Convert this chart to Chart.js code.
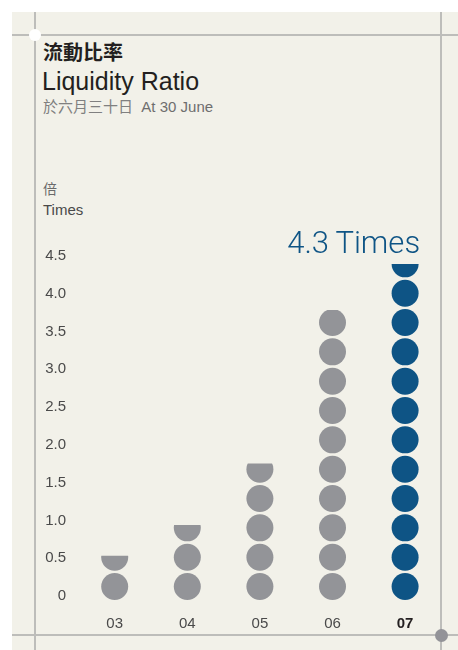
<!DOCTYPE html>
<html>
<head>
<meta charset="utf-8">
<script src="https://cdn.jsdelivr.net/npm/chart.js@4.4.1/dist/chart.umd.min.js"></script>
<style>
  html, body { margin: 0; padding: 0; background: #ffffff; }
  #wrap { position: relative; width: 458px; height: 650px; overflow: hidden; }
  .bg { position: absolute; left: 12px; top: 12px; width: 446px; height: 638px; background: #F2F1E9; }
  .ln { position: absolute; background: #BDBDBA; }
  .dot { position: absolute; border-radius: 50%; }
  canvas { position: absolute; left: 0; top: 0; }
  .txt { position: absolute; white-space: pre; font-family: "Liberation Sans", Arial, "Noto Sans CJK TC", sans-serif; }
  .cjk { font-family: "Noto Sans CJK TC", "Noto Sans CJK SC", sans-serif; }
</style>
</head>
<body>
<div id="wrap">
  <div class="bg"></div>
  <div class="ln" style="left:34px; top:12px; width:2px; height:638px;"></div>
  <div class="ln" style="left:440px; top:12px; width:2px; height:638px;"></div>
  <div class="ln" style="left:12px; top:34px; width:446px; height:2px;"></div>
  <div class="ln" style="left:12px; top:634px; width:446px; height:2px;"></div>
  <div class="dot" style="left:29px; top:29px; width:12px; height:12px; background:#ffffff;"></div>
  <div class="dot" style="left:435px; top:629px; width:13px; height:13px; background:#939398;"></div>

  <div class="txt cjk" style="left:43px; top:38px; font-size:20px; font-weight:bold; color:#231F20; line-height:28px;">流動比率</div>
  <div class="txt" style="left:42px; top:66px; font-size:25px; color:#231F20; line-height:30px;">Liquidity Ratio</div>
  <div class="txt" style="left:43px; top:96px; font-size:15px; color:#6e6e6e; line-height:20px;"><span class="cjk" style="color:#808080;">於六月三十日</span>  At 30 June</div>
  <div class="txt cjk" style="left:43px; top:178px; font-size:14px; color:#6a6a6a; line-height:20px;">倍</div>
  <div class="txt" style="left:43px; top:200px; font-size:15px; color:#4a4a4a; line-height:20px;">Times</div>

  <canvas id="c" width="458" height="650"></canvas>
</div>
<script>
// ---- data ----
const CATEGORIES = ['03', '04', '05', '06', '07'];
const VALUES = [0.5, 0.9, 1.7, 3.7, 4.3];
const DOT_COLORS = ['#939498', '#939498', '#939498', '#939498', '#0E5485'];
const Y_TICK_LABELS = ['0', '0.5', '1.0', '1.5', '2.0', '2.5', '3.0', '3.5', '4.0', '4.5'];
const HIGHLIGHT_UNIT = 'Times';

// ---- dot style ----
const DOT_R = 13.5;
const DOT_PITCH = 29.33;
const DOT_FIRST = 7.5;

const dotPlugin = {
  id: 'dotStacks',
  beforeDatasetDraw() { return false; },
  afterDatasetsDraw(chart) {
    const ctx = chart.ctx;
    const meta = chart.getDatasetMeta(0);
    const yScale = chart.scales.yData;
    const base0 = yScale.getPixelForValue(0);
    meta.data.forEach((bar, i) => {
      const top = bar.y;
      ctx.save();
      ctx.beginPath();
      ctx.rect(bar.x - DOT_R - 2, top, 2 * DOT_R + 4, base0 + 40 - top);
      ctx.clip();
      ctx.fillStyle = bar.options.backgroundColor;
      for (let cy = base0 - DOT_FIRST; cy + DOT_R > top; cy -= DOT_PITCH) {
        ctx.beginPath();
        ctx.arc(bar.x, cy, DOT_R, 0, Math.PI * 2);
        ctx.fill();
      }
      ctx.restore();
    });
    // highlight label for last value
    const last = meta.data[meta.data.length - 1];
    const v = VALUES[VALUES.length - 1];
    ctx.save();
    ctx.fillStyle = DOT_COLORS[DOT_COLORS.length - 1];
    ctx.font = '300 31px Roboto, "Liberation Sans", sans-serif';
    ctx.textAlign = 'right';
    ctx.textBaseline = 'alphabetic';
    ctx.fillText(v.toFixed(1) + '\u2009' + HIGHLIGHT_UNIT, last.x + 15, last.y - 11);
    ctx.restore();
  }
};

new Chart(document.getElementById('c'), {
  type: 'bar',
  data: {
    labels: CATEGORIES,
    datasets: [{
      data: VALUES,
      backgroundColor: DOT_COLORS,
      yAxisID: 'yData'
    }]
  },
  options: {
    responsive: false,
    devicePixelRatio: 1,
    animation: false,
    events: [],
    layout: { padding: { left: 18.4, right: 16.6, top: 256, bottom: 14 } },
    plugins: { legend: { display: false }, tooltip: { enabled: false }, title: { display: false } },
    scales: {
      x: {
        type: 'category',
        grid: { display: false, drawTicks: false },
        border: { display: false },
        afterFit(a) { a.height = 40; },
        ticks: {
          padding: 19,
          font: (c) => ({ family: '"Liberation Sans", Arial, sans-serif', size: 15, weight: c.index === CATEGORIES.length - 1 ? 'bold' : 'normal' }),
          color: (c) => c.index === CATEGORIES.length - 1 ? '#231F20' : '#4a4a4a'
        }
      },
      y: {
        position: 'left',
        min: 0,
        max: 4.5,
        grid: { display: false, drawTicks: false },
        border: { display: false },
        afterFit(a) { a.width = 60; },
        ticks: {
          stepSize: 0.5,
          padding: 12.4,
          font: { family: '"Liberation Sans", Arial, sans-serif', size: 15 },
          color: '#4a4a4a',
          callback: (val, idx) => Y_TICK_LABELS[idx]
        }
      },
      yData: {
        display: false,
        min: -0.026,
        max: 4.404
      }
    }
  },
  plugins: [dotPlugin]
});
</script>
</body>
</html>
